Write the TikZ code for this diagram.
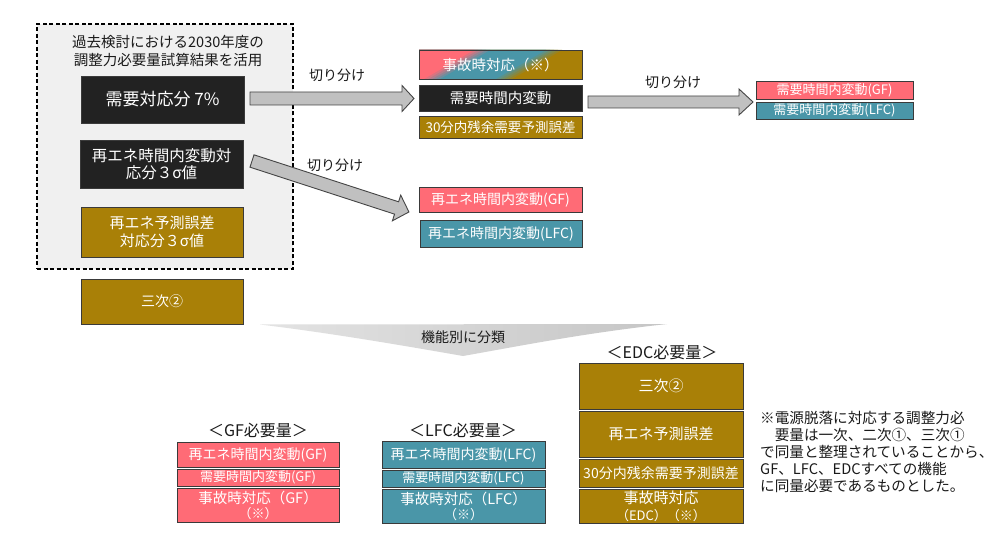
\documentclass[tikz,border=0pt]{standalone}
\usepackage{fontspec}
\setmainfont{Noto Sans CJK JP}
\usetikzlibrary{calc}
\definecolor{pinkc}{HTML}{FF6B76}
\definecolor{tealc}{HTML}{4A96A8}
\definecolor{goldc}{HTML}{A98007}
\definecolor{blkc}{HTML}{222222}
\definecolor{bordc}{HTML}{3A3A3A}
\definecolor{dashfill}{HTML}{F0F0F0}
\definecolor{arrowfill}{HTML}{C0C0C0}
\definecolor{arrowdraw}{HTML}{454545}
\definecolor{txtc}{HTML}{1A1A1A}
\newcommand\fs[2]{\fontsize{#1}{#2}\selectfont}
% #1 style, #2 name, #3 x1, #4 y1, #5 x2, #6 y2, #7 text
\newcommand\mkbox[7]{\node[bx,#1,minimum width={(#5-#3)*1pt},minimum height={(#6-#4)*1pt}] (#2) at ({(#3+#5)/2},{(#4+#6)/2}) {#7};}
% block arrow: #1 start coordinate name, #2 angle, #3 length, #4 shaft half, #5 head half, #6 head length
\newcommand\blockarrow[6]{%
\begin{scope}[shift={(#1)},rotate=#2]
\draw[barrow] (0,-#4) -- ({#3-#6},-#4) -- ({#3-#6},-#5) -- (#3,0) -- ({#3-#6},#5) -- ({#3-#6},#4) -- (0,#4) -- cycle;
\end{scope}}
\begin{document}
\begin{tikzpicture}[x=1pt,y=-1pt,
  bx/.style={draw=bordc, line width=0.9pt, inner sep=0pt, text=white, align=center, font=\fs{14}{17}},
  blackbox/.style={fill=blkc},
  goldbox/.style={fill=goldc},
  pinkbox/.style={fill=pinkc},
  tealbox/.style={fill=tealc},
  barrow/.style={fill=arrowfill, draw=arrowdraw, line width=0.9pt, line join=miter},
  lbl/.style={text=txtc, inner sep=0pt, font=\fs{14}{17}},
  grouplbl/.style={text=txtc, inner sep=0pt, font=\fs{16}{19}}
]
\useasboundingbox[fill=white] (0,0) rectangle (1000,534);

% ---- dashed group ----
\node[draw=black, dashed, dash pattern=on 4pt off 2.5pt, line width=1.6pt, fill=dashfill, inner sep=0pt,
      minimum width=256pt, minimum height=245pt] (grp) at (165,146.5) {};
\node[lbl, align=center, font=\fs{14.5}{18}] (grptitle) at (168,51) {過去検討における2030年度の\\調整力必要量試算結果を活用};

\mkbox{blackbox, font=\fs{17}{20}}{b1}{81}{76}{244}{123}{需要対応分 7\%}
\mkbox{blackbox, font=\fs{15.5}{17}}{b2}{80}{140}{243}{188}{再エネ時間内変動対\\応分３σ値}
\mkbox{goldbox, font=\fs{15}{18}}{b3}{81}{207}{243}{257}{再エネ予測誤差\\対応分３σ値}
\mkbox{goldbox}{b4}{81}{279}{243}{324}{三次②}

% ---- middle column ----
\begin{scope}
\clip (419,50) rectangle (582,79);
\fill[goldc] (419,50) rectangle (582,79);
\foreach \k in {1,...,5} {
  \pgfmathtruncatemacro\u{566-4*\k}
  \pgfmathtruncatemacro\p{20*\k}
  \fill[tealc!\p!goldc] (300,50) -- (\u,50) -- ({\u-50},79) -- (300,79) -- cycle;
}
\foreach \k in {1,...,5} {
  \pgfmathtruncatemacro\u{494-4*\k}
  \pgfmathtruncatemacro\p{20*\k}
  \fill[pinkc!\p!tealc] (300,50) -- (\u,50) -- ({\u-50},79) -- (300,79) -- cycle;
}
\end{scope}
\mkbox{font=\fs{14.5}{17}}{m1}{419}{50}{582}{79}{事故時対応（※）}
\mkbox{blackbox, font=\fs{14.5}{17}}{m2}{419}{85}{582}{111}{需要時間内変動}
\mkbox{goldbox, font=\fs{13.5}{16}}{m3}{419}{116}{582}{138}{30分内残余需要予測誤差}
\mkbox{pinkbox}{m4}{419}{187}{582}{212}{再エネ時間内変動(GF)}
\mkbox{tealbox}{m5}{420}{220}{582}{247}{再エネ時間内変動(LFC)}

% ---- right column ----
\mkbox{pinkbox, font=\fs{13}{15}}{r1}{756}{81}{913}{99}{需要時間内変動(GF)}
\mkbox{tealbox, font=\fs{13}{15}}{r2}{756}{102}{913}{119}{需要時間内変動(LFC)}

% ---- block arrows ----
\coordinate (a1s) at (250,98.5);
\coordinate (a2s) at (252,161);
\coordinate (a3s) at (588,102);
\blockarrow{a1s}{0}{164}{6.5}{13}{12}
\blockarrow{a2s}{-18}{165}{6.5}{13.5}{13}
\blockarrow{a3s}{0}{165}{6}{13}{14}
\node[lbl] (c1) at (337,75) {切り分け};
\node[lbl] (c2) at (335,165) {切り分け};
\node[lbl] (c3) at (673,82) {切り分け};

% ---- classification chevron ----
\coordinate (chl) at (260,324.5);
\coordinate (chr) at (667,324);
\coordinate (cht) at (463,356);
\shade[left color=gray!22, right color=gray!45, draw=none]
  (chl) -- (chr) .. controls (585,333) and (525,345) .. (cht)
        .. controls (400,345) and (330,333) .. (chl) -- cycle;
\node[lbl] (cls) at (463,337) {機能別に分類};

% ---- GF group ----
\node[grouplbl] (gfl) at (258,430) {＜GF必要量＞};
\mkbox{pinkbox}{g1}{177}{442}{339}{467}{再エネ時間内変動(GF)}
\mkbox{pinkbox, font=\fs{13}{15}}{g2}{177}{469}{339}{486}{需要時間内変動(GF)}
\mkbox{pinkbox, font=\fs{14.5}{15}}{g3}{177}{488}{339}{522}{事故時対応（GF）\\{\fs{13}{15}（※）}}

% ---- LFC group ----
\node[grouplbl] (lfl) at (463,430) {＜LFC必要量＞};
\mkbox{tealbox}{l1}{382}{441}{545}{468}{再エネ時間内変動(LFC)}
\mkbox{tealbox, font=\fs{13}{15}}{l2}{382}{470}{545}{487}{需要時間内変動(LFC)}
\mkbox{tealbox, font=\fs{14.5}{15}}{l3}{382}{489}{545}{523}{事故時対応（LFC）\\{\fs{13}{15}（※）}}

% ---- EDC group ----
\node[grouplbl] (edl) at (662,352) {＜EDC必要量＞};
\mkbox{goldbox, font=\fs{15}{18}}{e1}{579}{363}{743}{409}{三次②}
\mkbox{goldbox, font=\fs{15}{18}}{e2}{579}{411}{743}{457}{再エネ予測誤差}
\mkbox{goldbox, font=\fs{14}{16}}{e3}{579}{459}{743}{487}{30分内残余需要予測誤差}
\mkbox{goldbox, font=\fs{15}{17}}{e4}{579}{489}{743}{523}{事故時対応\\{\fs{13}{17}（EDC）（※）}}

% ---- note ----
\node[lbl, anchor=north west, align=left, font=\fs{14.6}{17}] (note) at (760,411)
{※電源脱落に対応する調整力必\\\hspace*{1em}要量は一次、二次①、三次①\\で同量と整理されていることから、\\GF、LFC、EDCすべての機能\\に同量必要であるものとした。};
\end{tikzpicture}
\end{document}
